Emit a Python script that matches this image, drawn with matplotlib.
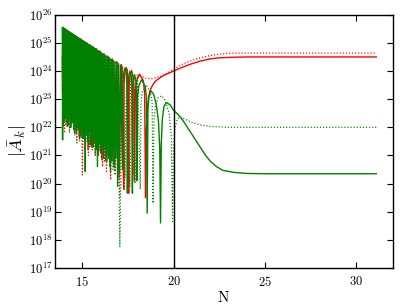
import numpy as np
import matplotlib
matplotlib.use("Agg")
import matplotlib.pyplot as plt

plt.rcParams['mathtext.fontset'] = 'cm'
plt.rcParams['font.family'] = 'serif'

# data: x = N, values are log10|A_k|
gs_x = [13.90, 13.915, 13.935, 13.952, 13.97, 13.988, 14.005, 14.022, 14.04, 14.06, 14.08, 14.10, 14.12, 14.14,
        14.16, 14.18, 14.20, 14.222, 14.245, 14.268, 14.29, 14.312, 14.335, 14.358, 14.38, 14.405, 14.43, 14.455,
        14.48, 14.505, 14.53, 14.558, 14.585, 14.612, 14.64, 14.668, 14.695, 14.722, 14.75, 14.78, 14.81, 14.84,
        14.87, 14.90, 14.93, 14.962, 14.995, 15.028, 15.06, 15.092, 15.125, 15.157, 15.19, 15.225, 15.26, 15.295,
        15.33, 15.365, 15.40, 15.438, 15.475, 15.512, 15.55, 15.588, 15.625, 15.665, 15.705, 15.745, 15.785, 15.825,
        15.865, 15.908, 15.95, 15.992, 16.035, 16.078, 16.12, 16.165, 16.21, 16.255, 16.30, 16.348, 16.395, 16.442,
        16.49, 16.538, 16.585, 16.632, 16.68, 16.73, 16.78, 16.83, 16.88, 16.93, 16.98, 17.032, 17.085, 17.20,
        17.22, 17.25, 17.33, 17.41, 17.445, 17.465, 17.487, 17.52, 17.60, 17.685, 17.72, 17.74,
        17.76, 17.79, 17.86, 17.93, 17.96, 17.98, 18.025, 18.09, 18.24, 18.44, 18.505, 18.55,
        18.59, 18.64, 18.75, 18.90, 19.05, 19.17, 19.24, 19.28, 19.32, 19.38, 19.47, 19.60, 19.80, 20.0,
        20.25, 20.5, 20.75, 21.0, 21.25, 21.5, 21.75, 22.0, 22.35, 22.7, 23.27, 24.0, 25.0, 31.1]
gs_v = [25.55, 21.55, 25.54, 22.7, 25.52, 22.4, 25.50, 22.9, 25.49, 22.3, 25.47, 22.6, 25.46, 22.2,
        25.44, 22.8, 25.42, 22.1, 25.40, 22.5, 25.38, 22.3, 25.36, 22.0, 25.34, 22.6, 25.32, 22.2,
        25.31, 22.4, 25.28, 21.9, 25.26, 22.3, 25.24, 21.8, 25.22, 22.2, 25.19, 21.9, 25.17, 22.1,
        25.14, 21.7, 25.12, 22.0, 25.09, 21.6, 25.06, 21.9, 25.04, 20.43, 25.01, 21.8, 24.98, 21.5,
        24.95, 21.9, 24.92, 21.4, 24.89, 21.7, 24.86, 21.3, 24.83, 21.6, 24.79, 21.2, 24.76, 20.6,
        24.72, 21.4, 24.69, 21.1, 24.65, 21.3, 24.62, 20.9, 24.58, 21.2, 24.55, 20.8, 24.51, 20.9,
        24.47, 20.43, 24.42, 20.8, 24.38, 20.6, 24.34, 20.9, 24.30, 19.9, 24.26, 20.4, 24.21, 20.5,
        23.5, 23.88, 24.11, 23.88, 23.5, 19.66, 23.4, 23.76, 23.99, 23.76, 23.4, 19.66,
        23.27, 23.64, 23.87, 23.64, 23.27, 20.1, 23.09, 23.46, 23.69, 23.46, 23.09, 18.95,
        22.6, 23.05, 23.30, 23.18, 22.8, 22.2, 21.2, 18.6, 21.4, 22.3, 22.75, 22.88, 22.8, 22.6,
        22.45, 22.25, 22.0, 21.75, 21.5, 21.25, 21.0, 20.8, 20.6, 20.47, 20.4, 20.36, 20.35, 20.35]

gd_x = [13.90, 13.915, 13.935, 13.952, 13.97, 13.988, 14.005, 14.022, 14.04, 14.06, 14.08, 14.10, 14.12, 14.14,
        14.16, 14.18, 14.20, 14.222, 14.245, 14.268, 14.29, 14.312, 14.335, 14.358, 14.38, 14.405, 14.43, 14.455,
        14.48, 14.505, 14.53, 14.558, 14.585, 14.612, 14.64, 14.668, 14.695, 14.722, 14.75, 14.78, 14.81, 14.84,
        14.87, 14.90, 14.93, 14.962, 14.995, 15.028, 15.06, 15.092, 15.125, 15.157, 15.19, 15.225, 15.26, 15.295,
        15.33, 15.365, 15.40, 15.438, 15.475, 15.512, 15.55, 15.588, 15.625, 15.665, 15.705, 15.745, 15.785, 15.825,
        15.865, 15.908, 15.95, 15.992, 16.035, 16.078, 16.12, 16.165, 16.21, 16.255, 16.30, 16.348, 16.395, 16.442,
        16.49, 16.538, 16.585, 16.632, 16.68, 16.73, 16.78, 16.83, 16.93, 17.05, 17.20, 17.33, 17.46, 17.60,
        17.74, 17.88, 18.02, 18.17, 18.21, 18.28, 18.50, 18.72,
        18.82, 18.87, 18.92, 19.0, 19.15, 19.35, 19.55, 19.75, 19.87, 19.94, 19.99, 20.08, 20.2, 20.35,
        20.6, 21.0, 21.5, 22.0, 23.0, 31.1]
gd_v = [24.0, 25.54, 22.0, 25.53, 22.5, 25.51, 22.2, 25.50, 22.7, 25.48, 22.1, 25.47, 22.4, 25.45,
        22.6, 25.43, 22.0, 25.41, 22.5, 25.39, 21.8, 25.37, 22.3, 25.35, 22.6, 25.33, 22.1, 25.32,
        22.4, 25.30, 21.9, 25.27, 22.3, 25.25, 22.0, 25.23, 21.44, 25.21, 22.0, 25.18, 21.7, 25.15,
        22.0, 25.13, 21.6, 25.10, 21.9, 25.07, 21.6, 25.05, 21.8, 25.02, 21.5, 25.00, 21.7, 24.97,
        21.4, 24.94, 21.3, 24.90, 21.6, 24.88, 21.2, 24.84, 21.5, 24.81, 21.0, 24.78, 21.3, 24.74,
        21.1, 24.71, 21.2, 24.67, 20.9, 24.63, 21.1, 24.60, 20.8, 24.56, 20.84, 24.53, 21.0, 24.49,
        20.6, 24.45, 20.8, 24.40, 20.5, 24.36, 20.3, 24.32, 24.28, 17.76, 24.16, 20.2, 24.05, 19.9,
        23.94, 20.0, 23.82, 19.8, 22.9, 23.27, 23.5, 23.27,
        22.9, 19.3, 22.2, 22.75, 23.05, 23.12, 22.95, 22.5, 21.7, 18.65, 21.3, 22.0, 22.3, 22.37,
        22.3, 22.17, 22.08, 22.03, 22.0, 22.0]

rs_x = [13.90, 13.94, 13.975, 14.01, 14.045, 14.08, 14.12, 14.16, 14.20, 14.25, 14.295, 14.35, 14.40, 14.455,
        14.51, 14.57, 14.63, 14.70, 14.765, 14.835, 14.905, 14.98, 15.06, 15.14, 15.22, 15.31, 15.40, 15.49,
        15.58, 15.675, 15.77, 15.87, 15.97, 16.07, 16.18, 16.29, 16.40, 16.52, 16.64, 16.76, 16.88, 17.005,
        17.13, 17.265, 17.285, 17.32, 17.40, 17.48, 17.515, 17.535, 17.56, 17.60, 17.69, 17.79, 17.825, 17.85,
        17.90, 17.97, 18.13, 18.34, 18.41, 18.46, 18.50, 18.55, 18.62, 18.70, 18.85, 19.0, 19.25, 19.5,
        19.75, 20.0, 20.5, 21.0, 21.5, 22.0, 22.5, 23.3, 24.0, 31.1]
rs_v = [24.5, 22.1, 25.53, 22.4, 25.50, 22.6, 25.46, 22.03, 25.43, 22.3, 25.39, 22.0, 25.35, 22.2,
        25.30, 21.8, 25.25, 22.0, 25.20, 21.6, 25.14, 21.7, 25.07, 21.5, 25.01, 21.2, 24.94, 21.3,
        24.87, 21.44, 24.79, 21.0, 24.71, 20.84, 24.62, 20.8, 24.53, 20.6, 24.43, 20.7, 24.33, 20.2,
        24.23, 19.8, 23.53, 23.9, 24.13, 23.9, 23.53, 19.66, 23.42, 23.79, 24.02, 23.79, 23.42, 20.1,
        23.29, 23.66, 23.89, 23.66, 23.2, 19.5, 21.8, 22.6, 23.05, 23.3, 23.5, 23.64, 23.76, 23.86,
        23.93, 24.0, 24.14, 24.26, 24.36, 24.43, 24.47, 24.49, 24.5, 24.5]

rd_x = [13.90, 13.95, 13.985, 14.02, 14.055, 14.09, 14.13, 14.17, 14.21, 14.26, 14.31, 14.36, 14.41, 14.47,
        14.525, 14.585, 14.645, 14.71, 14.78, 14.85, 14.92, 15.00, 15.08, 15.16, 15.24, 15.33, 15.42, 15.51,
        15.60, 15.70, 15.80, 15.90, 16.00, 16.105, 16.21, 16.32, 16.43, 16.55, 16.67, 16.79, 16.91, 17.04,
        17.17, 17.30, 17.43, 17.55, 17.66, 17.78, 17.84, 17.90, 18.0, 18.2, 18.5, 18.75, 19.0, 19.3,
        19.6, 20.0, 20.5, 21.0, 21.5, 22.0, 22.5, 23.0, 24.0, 31.1]
rd_v = [23.5, 22.3, 25.52, 21.8, 25.49, 22.5, 25.46, 22.1, 25.42, 22.4, 25.38, 22.0, 25.34, 22.2,
        25.29, 21.7, 25.24, 22.0, 25.18, 21.5, 25.12, 20.31, 25.06, 21.6, 24.99, 21.0, 24.92, 21.3,
        24.84, 21.0, 24.76, 21.2, 24.68, 20.6, 24.59, 20.38, 24.50, 20.13, 24.39, 20.5, 24.30, 19.5,
        24.18, 19.8, 24.08, 20.0, 24.0, 20.3, 23.3, 23.7, 23.85, 23.82, 23.74, 23.72, 23.76, 23.82,
        23.9, 24.07, 24.25, 24.38, 24.48, 24.55, 24.6, 24.63, 24.64, 24.64]

x_line = 20
xticks = [15, 20, 25, 30]
xtick_labels = [r'$15$', r'$20$', r'$25$', r'$30$']
yexps = [17, 18, 19, 20, 21, 22, 23, 24, 25, 26]
ytick_labels = [r'$10^{%d}$' % e for e in yexps]

fig = plt.figure(figsize=(4.09, 3.07), dpi=100)
ax = fig.add_axes([0.1345, 0.127, 0.8257, 0.825])

dots = (0, (1.0, 1.6))
ax.plot(rs_x, 10.0**np.array(rs_v), '-', color='#ff0000', lw=1.0)
ax.plot(rd_x, 10.0**np.array(rd_v), linestyle=dots, color='#ff0000', lw=0.85)
ax.plot(gs_x, 10.0**np.array(gs_v), '-', color='#008000', lw=1.0)
ax.plot(gd_x, 10.0**np.array(gd_v), linestyle=dots, color='#008000', lw=0.85)
ax.axvline(x_line, color='k', lw=1.0)

ax.set_yscale('log')
ax.set_xlim(13.5, 32.0)
ax.set_ylim(1e17, 1e26)
ax.set_xticks(xticks)
ax.set_xticklabels(xtick_labels)
ax.set_yticks([10.0**e for e in yexps])
ax.set_yticklabels(ytick_labels)
ax.yaxis.set_minor_locator(matplotlib.ticker.NullLocator())
ax.tick_params(which='both', direction='in', top=True, right=True, length=4, width=0.8, labelsize=9)
ax.tick_params(axis='y', pad=2)
ax.tick_params(axis='x', pad=5)
for s in ax.spines.values():
    s.set_linewidth(1.0)

ax.set_xlabel(r'$\mathrm{N}$', fontsize=11, labelpad=1)
ax.set_ylabel(r'$|\bar{A}_k|$', fontsize=13, labelpad=0)

fig.savefig('out.png', dpi=100)
